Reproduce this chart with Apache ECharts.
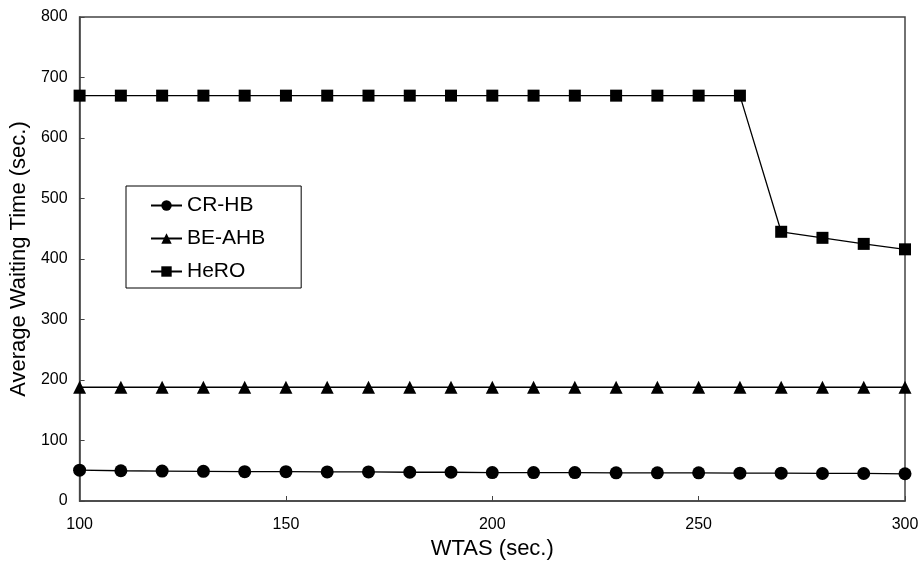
<!DOCTYPE html>
<html><head><meta charset="utf-8">
<script src="https://cdn.jsdelivr.net/npm/echarts@6/dist/echarts.min.js"></script>
<style>html,body{margin:0;padding:0;background:#fff}#c{width:922px;height:565px}</style>
</head><body><div id="c"></div>
<script>
const wtas = [100,110,120,130,140,150,160,170,180,190,200,210,220,230,240,250,260,270,280,290,300];
const crhb = [51,50,49.5,49,48.5,48.5,48,48,47.5,47.5,47,47,47,46.5,46.5,46.5,46,46,45.5,45.5,45];
const beahb = [188,188,188,188,188,188,188,188,188,188,188,188,188,188,188,188,188,188,188,188,188];
const hero = [670,670,670,670,670,670,670,670,670,670,670,670,670,670,670,670,670,445,435,425,416];
const seriesNames = ['CR-HB','BE-AHB','HeRO'];
const FONT = '"Liberation Sans", Arial, sans-serif';
const pair = (ys) => wtas.map((x,i)=>[x, ys[i]]);
const mk = (name, ys, sym, size) => ({
  name, type:'line', data: pair(ys), symbol: sym, symbolSize: size,
  lineStyle:{color:'#000', width:1.3}, itemStyle:{color:'#000'}, animation:false
});
const chart = echarts.init(document.getElementById('c'));
chart.setOption({
  animation:false,
  grid:{left:79, right:17, top:17, bottom:64, show:true, borderColor:'#444', borderWidth:1.5},
  xAxis:{type:'value', min:100, max:300, interval:50,
    name:'WTAS (sec.)', nameLocation:'middle', nameGap:36,
    nameTextStyle:{fontFamily:FONT, fontSize:22, color:'#000'},
    axisLine:{lineStyle:{color:'#444', width:1.5}},
    axisTick:{inside:true, length:5, lineStyle:{color:'#444'}},
    axisLabel:{fontFamily:FONT, fontSize:16, color:'#000', margin:16},
    splitLine:{show:false}},
  yAxis:{type:'value', min:0, max:800, interval:100,
    name:'Average Waiting Time (sec.)', nameLocation:'middle', nameGap:44,
    nameTextStyle:{fontFamily:FONT, fontSize:22, color:'#000'},
    axisLine:{show:true, lineStyle:{color:'#444', width:1.5}},
    axisTick:{show:true, inside:true, length:5, lineStyle:{color:'#444'}},
    axisLabel:{fontFamily:FONT, fontSize:16, color:'#000', margin:12},
    splitLine:{show:false}},
  legend:{orient:'vertical', left:126, top:186, data:seriesNames,
    borderColor:'#000', borderWidth:1, padding:[9,36,6,24], itemGap:12,
    itemWidth:31, itemHeight:13,
    textStyle:{fontFamily:FONT, fontSize:21, color:'#000'}},
  series:[
    mk(seriesNames[0], crhb, 'circle', 13),
    mk(seriesNames[1], beahb, 'triangle', 13),
    mk(seriesNames[2], hero, 'rect', 12)
  ]
});
</script></body></html>
